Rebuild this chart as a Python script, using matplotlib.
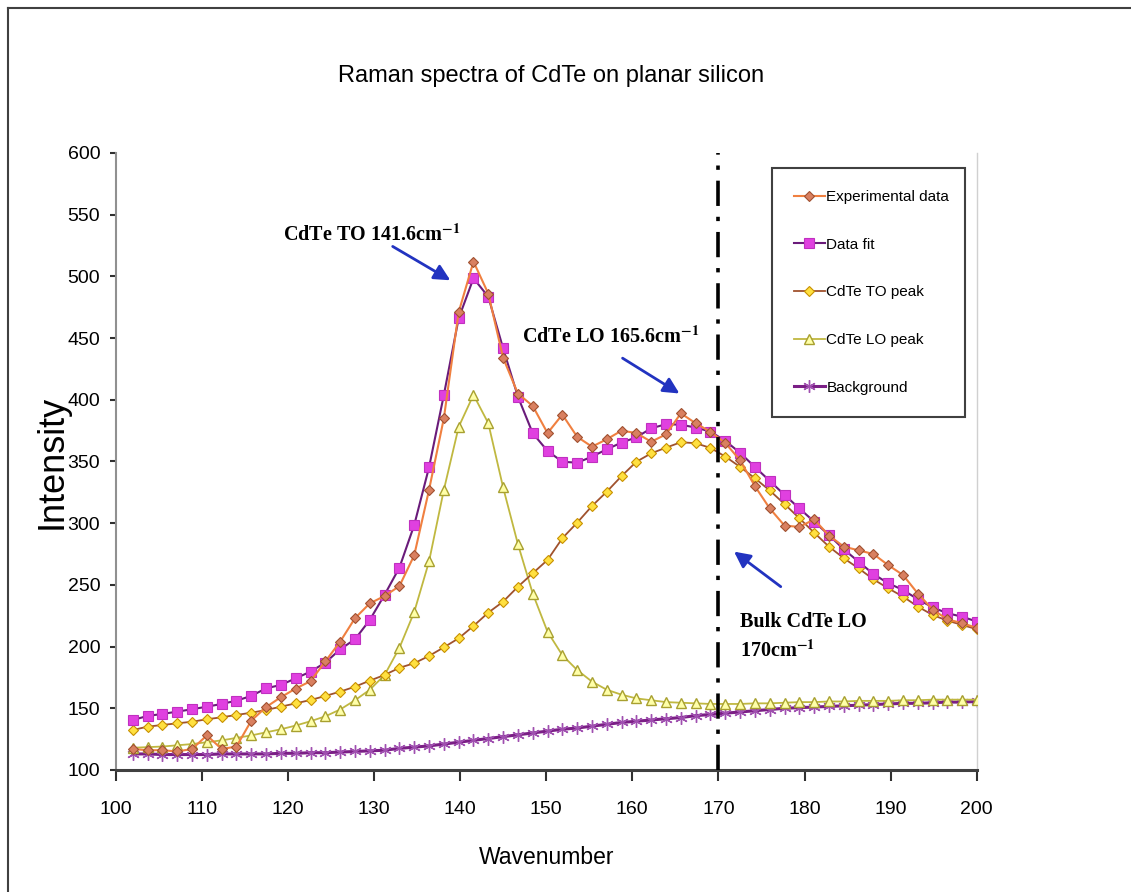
import numpy as np
import matplotlib
matplotlib.use("Agg")
import matplotlib.pyplot as plt
from matplotlib.lines import Line2D

plt.rcParams['mathtext.fontset'] = 'stix'

# wavenumber grid (cm-1)
wavenumber = [102.00, 103.72, 105.44, 107.16, 108.88, 110.60, 112.32, 114.04, 115.76, 117.48,
              119.20, 120.92, 122.64, 124.36, 126.08, 127.80, 129.52, 131.24, 132.96, 134.68,
              136.40, 138.12, 139.84, 141.56, 143.28, 145.00, 146.72, 148.44, 150.16, 151.88,
              153.60, 155.32, 157.04, 158.76, 160.48, 162.20, 163.92, 165.64, 167.36, 169.08,
              170.80, 172.52, 174.24, 175.96, 177.68, 179.40, 181.12, 182.84, 184.56, 186.28,
              188.00, 189.72, 191.44, 193.16, 194.88, 196.60, 198.32, 200.04]

experimental = [117, 116, 116, 115, 117, 128, 117, 119, 140, 151,
                159, 166, 172, 188, 204, 223, 235, 241, 249, 274,
                327, 385, 471, 512, 486, 434, 405, 395, 373, 388,
                370, 362, 368, 375, 373, 366, 372, 389, 381, 374,
                365, 351, 330, 312, 298, 297, 303, 290, 281, 278,
                275, 266, 258, 243, 230, 222, 219, 215]

data_fit = [140.5, 143.8, 145.4, 147.3, 149.2, 151.3, 153.5, 156.2, 160, 166.2,
            168.9, 174.3, 179.7, 187, 197.8, 205.9, 221.6, 242, 264, 298.5,
            345.3, 403.9, 466, 498.5, 483.5, 441.7, 402.5, 372.9, 358.5, 349.8,
            349, 353.9, 359.9, 365.3, 369.6, 376.9, 380.2, 379.8, 377.5, 374.2,
            366.7, 357, 345.5, 334.3, 322.9, 312, 301.2, 290.4, 278.8, 268.8,
            258.8, 251.3, 245.9, 238.3, 231.8, 227, 224.2, 220.2]

to_peak = [132.4, 135.1, 136.5, 137.8, 139.1, 141.1, 142.7, 144.6, 146.4, 148.6,
           151.3, 154, 156.7, 160, 163.5, 167.5, 172.4, 177, 182.8, 186.5,
           192.4, 199.4, 206.7, 216.7, 227.5, 236.4, 248.5, 259.4, 270.2, 287.8,
           300.4, 313.9, 325.5, 338.2, 349.8, 356.6, 361.2, 365.6, 364.8, 361,
           354, 345.6, 336.4, 326.5, 315.5, 304, 292.3, 281, 271.6, 263.4,
           254.5, 247.2, 240.5, 232.4, 225.6, 221, 217.5, 214]

lo_peak = [118, 118.5, 119, 120, 121, 122.5, 124, 126, 128, 130.5,
           133, 136, 139.5, 143.5, 149, 156.5, 165, 177, 199, 228,
           269, 327, 378, 404, 381, 329, 283, 243, 212, 193,
           181, 171.6, 165, 161, 158, 156.5, 155, 154.5, 154, 153.5,
           153.5, 153.5, 154, 154, 154.5, 155, 155, 155.5, 155.5, 156,
           156, 156, 156.5, 156.5, 157, 157, 157, 157]

background = [113, 113, 112.5, 112.5, 112.5, 112.5, 113, 113, 113, 113,
              113.5, 113.5, 114, 114, 114.5, 115, 115.5, 116, 117.5, 118.5,
              119.5, 121, 122.5, 124, 125.5, 127, 128.5, 130, 131.5, 133,
              134, 135.5, 137, 138.5, 139.5, 140.5, 141.5, 142.5, 144, 145,
              146, 147, 148, 149, 150, 150.5, 151, 151.5, 152, 152.5,
              153, 153.5, 154, 154, 154.5, 155, 155, 155.5]

sans = ['Liberation Sans', 'DejaVu Sans']

fig = plt.figure(figsize=(11.31, 8.92), dpi=100)
ax = fig.add_axes([0.1022, 0.1368, 0.7614, 0.6917])

ax.plot(wavenumber, background, color='#7B1F86', lw=2.2, marker=(6, 2, 0), ms=9,
        mec='#A050B0', mew=1, label='Background', zorder=2)
ax.plot(wavenumber, lo_peak, color='#C0B840', lw=1.3, marker='^', ms=7,
        mfc='#FFFFA8', mec='#A8A030', mew=1, label='CdTe LO peak', zorder=3)
ax.plot(wavenumber, to_peak, color='#A0522D', lw=1.3, marker='D', ms=5.5,
        mfc='#FFE040', mec='#C89000', mew=0.8, label='CdTe TO peak', zorder=4)
ax.plot(wavenumber, data_fit, color='#6A1B7A', lw=1.5, marker='s', ms=7,
        mfc='#E040E0', mec='#C030C0', mew=0.8, label='Data fit', zorder=5)
ax.plot(wavenumber, experimental, color='#F08040', lw=1.5, marker='D', ms=5.5,
        mfc='#D98060', mec='#A05030', mew=0.8, label='Experimental data', zorder=6)

ax.axvline(170, color='black', lw=2.6, linestyle=(0, (7, 3, 1.2, 3)), zorder=7)

ax.set_xlim(100, 200)
ax.set_ylim(100, 600)
ax.set_xticks(np.arange(100, 201, 10))
ax.set_yticks(np.arange(100, 601, 50))
ax.tick_params(axis='x', direction='out', length=8, width=1.5, labelsize=14, pad=14.4, colors='#303030')
ax.tick_params(axis='y', direction='out', length=4, width=1.5, labelsize=14, pad=7, colors='#303030')
for lab in ax.get_xticklabels() + ax.get_yticklabels():
    lab.set_family(sans)
    lab.set_color('black')

ax.spines['top'].set_visible(False)
ax.spines['left'].set_color('#909090')
ax.spines['left'].set_linewidth(1.5)
ax.spines['bottom'].set_color('#404040')
ax.spines['bottom'].set_linewidth(2.2)
ax.spines['right'].set_color('#D0D0D0')
ax.spines['right'].set_linewidth(1)

ax.set_xlabel('Wavenumber', family=sans, fontsize=16.5, labelpad=20)
ax.set_ylabel('Intensity', family=sans, fontsize=26, va='center')
ax.yaxis.set_label_coords(-0.074, 0.5)

fig.text(0.4876, 0.915, 'Raman spectra of CdTe on planar silicon', family=sans,
         fontsize=17, ha='center', va='center')

# annotations
ann_font = dict(family='Liberation Serif', fontweight='bold', fontsize=14.5)
arrow = dict(arrowstyle='-|>', color='#2233C0', lw=2, mutation_scale=24)
ax.text(119.4, 533.5, r'CdTe TO 141.6cm$^{\mathbf{-1}}$', ha='left', va='center', **ann_font)
ax.annotate('', xy=(139.15, 495.7), xytext=(131.9, 525.4), arrowprops=arrow)
ax.text(147.2, 451, r'CdTe LO 165.6cm$^{\mathbf{-1}}$', ha='left', va='center', **ann_font)
ax.annotate('', xy=(165.75, 403.9), xytext=(158.6, 434.9), arrowprops=arrow)
ax.text(172.5, 220, 'Bulk CdTe LO', ha='left', va='center', **ann_font)
ax.text(172.5, 196, r'170cm$^{\mathbf{-1}}$', ha='left', va='center', **ann_font)
ax.annotate('', xy=(171.56, 278.3), xytext=(177.5, 247.2), arrowprops=arrow)

handles, labels = ax.get_legend_handles_labels()
leg = ax.legend(handles[::-1], labels[::-1], loc='upper left',
                bbox_to_anchor=(0.6826, 0.529, 0.1706, 0.2827), bbox_transform=fig.transFigure,
                mode='expand', borderaxespad=0, numpoints=1, handlelength=2.0,
                handletextpad=0.1, labelspacing=2.2, borderpad=1.45, fancybox=False,
                framealpha=1, edgecolor='#404040', prop={'family': sans, 'size': 11})
leg.get_frame().set_linewidth(1.5)

# outer chart border
fig.add_artist(Line2D([0.007, 1.0], [0.991, 0.991], transform=fig.transFigure, color='#404040', lw=1.5))
fig.add_artist(Line2D([0.007, 0.007], [0.0, 0.991], transform=fig.transFigure, color='#404040', lw=1.5))

fig.savefig('out.png', dpi=100)
